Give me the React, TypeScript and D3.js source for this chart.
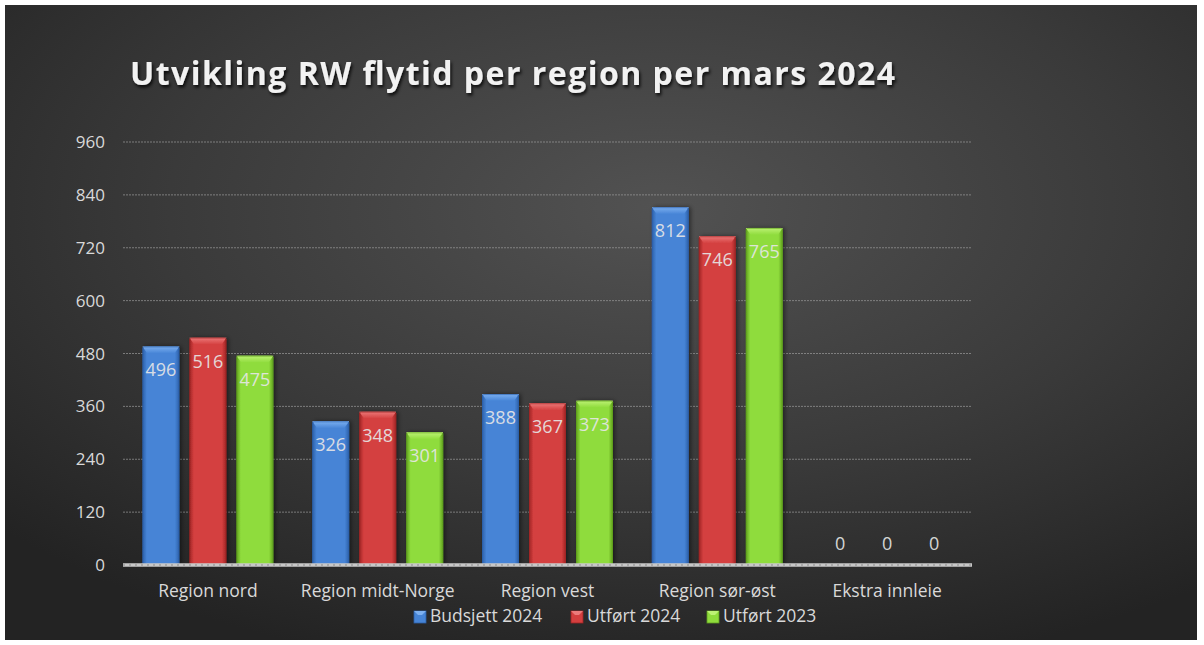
import * as d3 from "d3";

const categories = ["Region nord", "Region midt-Norge", "Region vest", "Region sør-øst", "Ekstra innleie"];
const seriesNames = ["Budsjett 2024", "Utført 2024", "Utført 2023"];
const budsjett2024 = [496, 326, 388, 812, 0];
const utfort2024 = [516, 348, 367, 746, 0];
const utfort2023 = [475, 301, 373, 765, 0];
const yTicks = [0, 120, 240, 360, 480, 600, 720, 840, 960];

const seriesValues = [budsjett2024, utfort2024, utfort2023];
const palette = [
  { main: "#4684d6", light: "#7db0f0", dark: "#2c5fa8" },
  { main: "#d43f3f", light: "#ec7a7a", dark: "#9e2424" },
  { main: "#8fdc3c", light: "#bdf275", dark: "#5f9f1e" },
];

export default function App(): JSX.Element {
  const width = 1204;
  const height = 645;
  const margin = { top: 142, right: 232, bottom: 80, left: 123 };

  const x = d3
    .scaleBand<string>()
    .domain(categories)
    .range([margin.left, width - margin.right])
    .padding(0);

  const xInner = d3
    .scaleBand<string>()
    .domain(seriesNames)
    .range([0, x.bandwidth()])
    .paddingInner(0.213)
    .paddingOuter(0.413);

  const y = d3
    .scaleLinear()
    .domain([0, 960])
    .range([height - margin.bottom, margin.top]);

  const y0 = y(0);
  const bw = xInner.bandwidth();
  const font = "'Open Sans', 'Noto Sans', sans-serif";
  const textCol = "#d9d9d9";

  const legendX = [414, 571, 707];

  return (
    <svg
      width={width}
      height={height}
      style={{ position: "absolute", left: 0, top: 0, background: "#fff" }}
      fontFamily={font}
    >
      <defs>
        <radialGradient id="bg" cx="0.55" cy="0.32" r="0.75">
          <stop offset="0" stopColor="#525252" />
          <stop offset="0.55" stopColor="#3a3a3a" />
          <stop offset="1" stopColor="#232323" />
        </radialGradient>
        {palette.map((p, i) => (
          <linearGradient key={i} id={`bar${i}`} x1="0" x2="1" y1="0" y2="0">
            <stop offset="0" stopColor={p.dark} />
            <stop offset="0.12" stopColor={p.main} />
            <stop offset="0.88" stopColor={p.main} />
            <stop offset="1" stopColor={p.dark} />
          </linearGradient>
        ))}
        {palette.map((p, i) => (
          <linearGradient key={i} id={`top${i}`} x1="0" x2="0" y1="0" y2="1">
            <stop offset="0" stopColor={p.light} />
            <stop offset="1" stopColor={p.main} />
          </linearGradient>
        ))}
        <filter id="shadow" x="-5%" y="-30%" width="110%" height="160%">
          <feDropShadow dx="1.5" dy="2.5" stdDeviation="1.5" floodColor="#000" floodOpacity="0.8" />
        </filter>
        <filter id="barShadow" x="-20%" y="-5%" width="140%" height="110%">
          <feDropShadow dx="2" dy="0" stdDeviation="2" floodColor="#000" floodOpacity="0.45" />
        </filter>
      </defs>

      <rect x={5} y={5} width={1192} height={635} fill="url(#bg)" />

      <text
        x={130}
        y={85}
        fontSize={32}
        fontWeight={700}
        fill="#f2f2f2"
        textLength={765}
        lengthAdjust="spacing"
        filter="url(#shadow)"
      >
        Utvikling RW flytid per region per mars 2024
      </text>

      {yTicks.map((t) => (
        <g key={t}>
          {t > 0 && (
            <line
              x1={margin.left}
              x2={width - margin.right}
              y1={y(t)}
              y2={y(t)}
              stroke="#9a9a9a"
              strokeWidth={1}
              strokeDasharray="2,1"
              opacity={0.7}
            />
          )}
          <text x={105} y={y(t) + 6} textAnchor="end" fontSize={17} fill={textCol}>
            {t}
          </text>
        </g>
      ))}

      {categories.map((c, ci) => (
        <g key={c} transform={`translate(${x(c)},0)`}>
          {seriesNames.map((s, si) => {
            const v = seriesValues[si][ci];
            const bx = xInner(s)!;
            const by = y(v);
            const h = y0 - by;
            const p = palette[si];
            return (
              <g key={s}>
                {h > 0 && (
                  <g filter="url(#barShadow)">
                    <rect x={bx} y={by} width={bw} height={h} fill={`url(#bar${si})`} rx={1.5} />
                    <polygon
                      points={`${bx},${by} ${bx + bw},${by} ${bx + bw - 5},${by + 7} ${bx + 5},${by + 7}`}
                      fill={`url(#top${si})`}
                    />
                    <rect
                      x={bx + 0.5}
                      y={by + 0.5}
                      width={bw - 1}
                      height={h - 1}
                      fill="none"
                      stroke={p.dark}
                      strokeOpacity={0.6}
                      rx={1.5}
                    />
                  </g>
                )}
                <text
                  x={bx + bw / 2}
                  y={h > 0 ? by + 30 : y0 - 15}
                  textAnchor="middle"
                  fontSize={18}
                  fill="#e6e6e6"
                  fillOpacity={0.92}
                >
                  {v}
                </text>
              </g>
            );
          })}
          <text x={x.bandwidth() / 2} y={597} textAnchor="middle" fontSize={17.5} fill={textCol}>
            {c}
          </text>
        </g>
      ))}

      <line
        x1={margin.left}
        x2={width - margin.right}
        y1={y0}
        y2={y0}
        stroke="#c8c8c8"
        strokeWidth={3.5}
      />
      <line
        x1={margin.left}
        x2={width - margin.right}
        y1={y0}
        y2={y0}
        stroke="#8a8a8a"
        strokeWidth={1}
        strokeDasharray="2,4"
      />

      {seriesNames.map((s, i) => {
        const p = palette[i];
        const lx = legendX[i];
        return (
          <g key={s}>
            <rect x={lx} y={611} width={12} height={12} fill={p.main} stroke={p.dark} strokeWidth={0.8} />
            <polygon points={`${lx},611 ${lx + 12},611 ${lx + 8},615 ${lx + 4},615`} fill={p.light} />
            <text x={lx + 16} y={622} fontSize={17.5} fill={textCol}>
              {s}
            </text>
          </g>
        );
      })}
    </svg>
  );
}
